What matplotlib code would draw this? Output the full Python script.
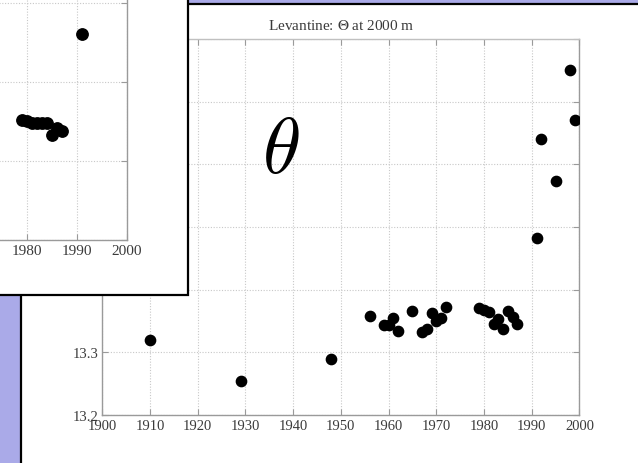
import matplotlib
matplotlib.use("Agg")
import matplotlib.pyplot as plt
from matplotlib.patches import Rectangle

plt.rcParams["font.family"] = ["Liberation Serif", "DejaVu Serif"]
plt.rcParams["mathtext.fontset"] = "stix"

# Main series: potential temperature at 2000 m, Levantine basin
years = [1910, 1929, 1948, 1956, 1959, 1960, 1961, 1962, 1965, 1967, 1968,
         1969, 1970, 1971, 1972, 1979, 1980, 1981, 1982, 1983, 1984, 1985,
         1986, 1987, 1991, 1992, 1995, 1998, 1999]
theta = [13.319, 13.255, 13.289, 13.358, 13.344, 13.344, 13.355, 13.334,
         13.366, 13.332, 13.338, 13.363, 13.350, 13.354, 13.373, 13.370,
         13.368, 13.365, 13.346, 13.353, 13.338, 13.366, 13.356, 13.346,
         13.482, 13.641, 13.573, 13.751, 13.671]

# Inset series (earlier version of the same record)
inset_years = [1979, 1980, 1981, 1982, 1983, 1984, 1985, 1986, 1987, 1991]
inset_theta = [13.351, 13.350, 13.348, 13.348, 13.348, 13.348, 13.332,
               13.342, 13.337, 13.460]

xticks = [1900, 1910, 1920, 1930, 1940, 1950, 1960, 1970, 1980, 1990, 2000]
inset_xticks = [1980, 1990, 2000]
yticks = [13.2, 13.3, 13.4, 13.5, 13.6, 13.7, 13.8]
ytick_labels = ["13.2", "13.3", "13.4", "13.5", "13.6", "13.7", "13.8"]
title = r"Levantine: $\Theta$ at 2000 m"
symbol = r"$\theta$"

W, H = 638, 464
fig = plt.figure(figsize=(W / 100, H / 100), dpi=100)
fig.patch.set_facecolor("#aaaae8")

def px(x0, y0, x1, y1):
    """Pixel box (top-left origin) -> figure-fraction rect."""
    return [x0 / W, 1 - y1 / H, (x1 - x0) / W, (y1 - y0) / H]

# Slide panel
fig.add_artist(Rectangle((20.8 / W, -0.05), 1.1, 1 - 4.5 / H + 0.05,
                         transform=fig.transFigure, facecolor="white",
                         edgecolor="black", linewidth=1.6, zorder=0))

spine_col = "#9a9a9a"
text_col = "#3a3a3a"
grid_kw = dict(color="#c8c8c8", linestyle=(0, (1, 1.5)), linewidth=0.8)

def style(ax):
    for s in ax.spines.values():
        s.set_color(spine_col)
        s.set_linewidth(1.0)
    ax.tick_params(direction="in", length=4, color=spine_col,
                   labelcolor=text_col, labelsize=10.5,
                   top=True, right=True, pad=3)
    ax.grid(True, **grid_kw)
    ax.set_axisbelow(True)

# Main axes
ax = fig.add_axes(px(102.3, 40, 579.5, 416))
ax.plot(years, theta, "o", color="black", markersize=7.4, zorder=3)
ax.set_xlim(1900, 2000)
ax.set_ylim(13.2, 13.8)
ax.set_xticks(xticks)
ax.set_yticks(yticks)
ax.set_yticklabels(ytick_labels)
style(ax)
ax.spines["top"].set_color("#c0c0c0")
ax.set_title(title, fontsize=11, color=text_col, pad=7)
ax.text(1937.4, 13.617, symbol, fontsize=56, math_fontfamily="cm",
        ha="center", va="center", color="black")

# Inset box (white card with black edge)
fig.add_artist(Rectangle((-0.05, 1 - 295.7 / H), 0.05 + 188.3 / W,
                         295.7 / H + 0.05, transform=fig.transFigure,
                         facecolor="white", edgecolor="black",
                         linewidth=1.6, zorder=5))

# Inset axes: right part of an earlier plot, extending off the left/top edge
ins = fig.add_axes(px(126.7 - 500, 240.7 - 474, 126.7, 240.7), zorder=6)
ins.patch.set_alpha(0)
ins.plot(inset_years, inset_theta, "o", color="black", markersize=8.2,
         zorder=3)
ins.set_xlim(1900, 2000)
ins.set_ylim(13.2, 13.8)
ins.set_xticks(inset_xticks)
ins.set_yticks(yticks)
ins.set_yticklabels([])
style(ins)
ins.tick_params(labelsize=11)

fig.savefig("out.png", dpi=100)
